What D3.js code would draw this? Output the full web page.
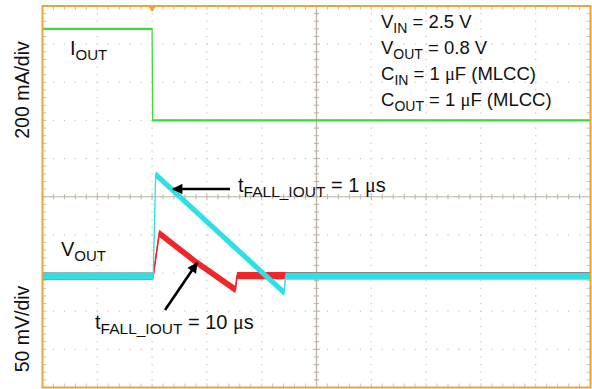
<!DOCTYPE html>
<html>
<head>
<meta charset="utf-8">
<script src="https://cdn.jsdelivr.net/npm/d3@7"></script>
<style>
  html, body { margin: 0; padding: 0; background: #ffffff; }
  svg { display: block; font-family: "Liberation Sans", Arial, Helvetica, sans-serif; }
  .mu { font-family: "Liberation Serif", "DejaVu Serif", serif; }
</style>
</head>
<body>
<svg id="chart" width="592" height="389"></svg>
<script>
// Time base: 100 µs/div, trigger two divisions in from the left edge
const timeDomainUs = [-200, 800];
// Current channel: 200 mA/div
const currentDomainMA = [-1400, 600];
// Voltage channel (AC coupled deviation): 50 mV/div
const voltageDomainMV = [-146, 354];
const triggerTimeUs = 0;

// Load current step (green)
const ioutTimeUs = [-200, 0, 1, 800];
const ioutMA = [480, 480, 0, 0];

// Output voltage deviation, 1 µs load-current fall time (cyan)
const vFast1TimeUs = [-200, 2, 6.5, 120, 241, 243.5, 800];
const vFast1MV = [0, 0, 133, 58, -21.5, 0, 0];

// Output voltage deviation, 10 µs load-current fall time (red)
const vSlow10TimeUs = [-200, 2, 13, 80, 152, 155, 800];
const vSlow10MV = [0, 0, 56, 18.5, -17.7, 0.5, 0.5];

const conditionLines = [
  { base: "V", sub: "IN", rest: " = 2.5 V" },
  { base: "V", sub: "OUT", rest: " = 0.8 V" },
  { base: "C", sub: "IN", rest: " = 1 μF (MLCC)" },
  { base: "C", sub: "OUT", rest: " = 1 μF (MLCC)" }
];

const svg = d3.select("#chart");
const plot = { left: 42.5, right: 590.5, top: 6, bottom: 387.5 };
const divs = 10, minorPerDiv = 5;

const x = d3.scaleLinear().domain(timeDomainUs).range([plot.left, plot.right]);
const yI = d3.scaleLinear().domain(currentDomainMA).range([plot.bottom, plot.top]);
const yV = d3.scaleLinear().domain(voltageDomainMV).range([plot.bottom, plot.top]);
// Division grid scales
const gx = d3.scaleLinear().domain([0, divs]).range([plot.left, plot.right]);
const gy = d3.scaleLinear().domain([0, divs]).range([plot.top, plot.bottom]);

const gridColor = "#cbc4b6";
const centerColor = "#bab2a2";
const frameColor = "#f0a232";

const grid = svg.append("g");
const minorSteps = d3.range(0, divs * minorPerDiv + 1).map(d => d / minorPerDiv);

// Dotted division lines
[1,2,3,4,6,7,8,9].forEach(k => {
  minorSteps.forEach(s => {
    grid.append("rect").attr("x", gx(k) - 0.6).attr("y", gy(s) - 0.6)
      .attr("width", 1.2).attr("height", 1.2).attr("fill", gridColor);
    grid.append("rect").attr("x", gx(s) - 0.6).attr("y", gy(k) - 0.6)
      .attr("width", 1.2).attr("height", 1.2).attr("fill", gridColor);
  });
});

// Centre cross with minor ticks
grid.append("line").attr("x1", gx(5)).attr("x2", gx(5)).attr("y1", plot.top).attr("y2", plot.bottom)
  .attr("stroke", centerColor).attr("stroke-width", 1.3);
grid.append("line").attr("x1", plot.left).attr("x2", plot.right).attr("y1", gy(5)).attr("y2", gy(5))
  .attr("stroke", centerColor).attr("stroke-width", 1.1);
minorSteps.forEach(s => {
  const len = Number.isInteger(s) ? 3.5 : 2.6;
  grid.append("line").attr("x1", gx(5) - len).attr("x2", gx(5) + len)
    .attr("y1", gy(s)).attr("y2", gy(s)).attr("stroke", centerColor).attr("stroke-width", 1);
  grid.append("line").attr("y1", gy(5) - len).attr("y2", gy(5) + len)
    .attr("x1", gx(s)).attr("x2", gx(s)).attr("stroke", centerColor).attr("stroke-width", 1);
  // ticks along the frame edges
  grid.append("line").attr("x1", plot.left).attr("x2", plot.left + 4)
    .attr("y1", gy(s)).attr("y2", gy(s)).attr("stroke", gridColor).attr("stroke-width", 1);
  grid.append("line").attr("x1", plot.right - 4).attr("x2", plot.right)
    .attr("y1", gy(s)).attr("y2", gy(s)).attr("stroke", gridColor).attr("stroke-width", 1);
  grid.append("line").attr("y1", plot.top).attr("y2", plot.top + 4)
    .attr("x1", gx(s)).attr("x2", gx(s)).attr("stroke", gridColor).attr("stroke-width", 1);
  grid.append("line").attr("y1", plot.bottom - 4).attr("y2", plot.bottom)
    .attr("x1", gx(s)).attr("x2", gx(s)).attr("stroke", gridColor).attr("stroke-width", 1);
});

// Traces: each drawn as a noise band plus a thin core line
function trace(times, values, yScale, color, halfBand, coreWidth) {
  const pts = times.map((t, i) => [t, values[i]]);
  const area = d3.area().x(d => x(d[0])).y0(d => yScale(d[1]) + halfBand).y1(d => yScale(d[1]) - halfBand);
  const line = d3.line().x(d => x(d[0])).y(d => yScale(d[1]));
  svg.append("path").datum(pts).attr("d", area).attr("fill", color);
  svg.append("path").datum(pts).attr("d", line).attr("fill", "none")
    .attr("stroke", color).attr("stroke-width", coreWidth);
}

trace(ioutTimeUs, ioutMA, yI, "#38e034", 1.1, 1.3);
trace(vSlow10TimeUs, vSlow10MV, yV, "#f0262a", 3.6, 1.6);
trace(vFast1TimeUs, vFast1MV, yV, "#2ee0e6", 3.5, 1.3);

// Frame and trigger marker
svg.append("rect").attr("x", plot.left).attr("y", plot.top)
  .attr("width", plot.right - plot.left).attr("height", plot.bottom - plot.top)
  .attr("fill", "none").attr("stroke", frameColor).attr("stroke-width", 2);
const tx = x(triggerTimeUs);
svg.append("path").attr("d", `M${tx - 4},${plot.top} L${tx + 4},${plot.top} L${tx},${plot.top + 6} Z`)
  .attr("fill", frameColor);

// Text helper: base letter, subscript, then the rest with the µ sign set in a serif face
function subText(g, px, py, base, sub, rest, size, subSize, dy) {
  const t = g.append("text").attr("x", px).attr("y", py).attr("font-size", size).attr("fill", "#111");
  t.append("tspan").text(base);
  t.append("tspan").attr("font-size", subSize).attr("dy", dy).text(sub);
  if (rest) {
    const parts = rest.split("μ");
    parts.forEach((p, i) => {
      const sp = t.append("tspan").text(p);
      if (i === 0) sp.attr("dy", -dy);
      if (i < parts.length - 1) t.append("tspan").attr("class", "mu").text("μ");
    });
  }
  return t;
}

// Vertical scale labels
svg.append("text").attr("transform", `translate(29,90) rotate(-90)`)
  .attr("text-anchor", "middle").attr("font-size", 19.5).attr("fill", "#111").text("200 mA/div");
svg.append("text").attr("transform", `translate(29,329) rotate(-90)`)
  .attr("text-anchor", "middle").attr("font-size", 19.5).attr("fill", "#111").text("50 mV/div");

// Trace labels
subText(svg, 70, 55, "I", "OUT", null, 20, 15, 5);
subText(svg, 61, 256, "V", "OUT", null, 20, 15, 5);

// Test conditions
conditionLines.forEach((d, i) => {
  subText(svg, 381, 28 + i * 26, d.base, d.sub, d.rest, 18.5, 14, 4.5);
});

// Annotations with arrows
svg.append("defs").append("marker").attr("id", "head")
  .attr("viewBox", "0 0 10 10").attr("refX", 9).attr("refY", 5)
  .attr("markerWidth", 6).attr("markerHeight", 4).attr("orient", "auto")
  .attr("markerUnits", "strokeWidth")
  .append("path").attr("d", "M0,0 L10,5 L0,10 Z").attr("fill", "#000");

svg.append("line").attr("x1", 230).attr("y1", 189).attr("x2", 173).attr("y2", 189)
  .attr("stroke", "#000").attr("stroke-width", 2.6).attr("marker-end", "url(#head)");
svg.append("line").attr("x1", 165).attr("y1", 310).attr("x2", 197).attr("y2", 263)
  .attr("stroke", "#000").attr("stroke-width", 2.6).attr("marker-end", "url(#head)");

subText(svg, 238, 192, "t", "FALL_IOUT", " = 1 μs", 20, 15.5, 4.5);
subText(svg, 95, 329, "t", "FALL_IOUT", " = 10 μs", 20, 15.5, 4.5);
</script>
</body>
</html>
